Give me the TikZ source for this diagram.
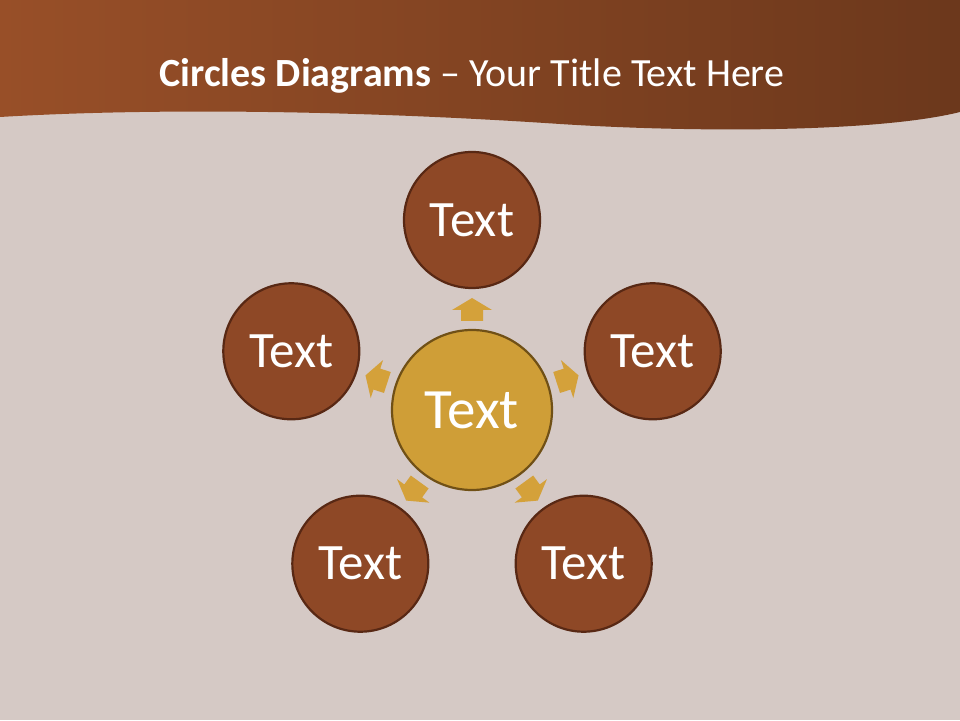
\documentclass[tikz,border=0pt]{standalone}
\usepackage{fontspec}
\setmainfont{Carlito}
\usetikzlibrary{calc}
\definecolor{pagebg}{RGB}{213,201,197}
\definecolor{hdrleft}{RGB}{152,79,40}
\definecolor{hdrright}{RGB}{108,56,28}
\definecolor{ringfill}{RGB}{142,72,38}
\definecolor{ringline}{RGB}{88,40,20}
\definecolor{hubfill}{RGB}{207,158,55}
\definecolor{hubline}{RGB}{112,80,22}
\definecolor{arrowfill}{RGB}{212,161,58}

\def\R{190}

\begin{document}
\begin{tikzpicture}[x=1pt, y=1pt]
  \tikzset{
    ring/.style={circle, fill=ringfill, draw=ringline, line width=2.2pt,
      minimum size=136pt, inner sep=0pt, text=white, font=\fontsize{51}{54}\selectfont},
    hub/.style={circle, fill=hubfill, draw=hubline, line width=2.2pt,
      minimum size=160pt, inner sep=0pt, text=white, font=\fontsize{57}{60}\selectfont},
    blockarrow/.style={fill=arrowfill}
  }
  % background and header wave
  \fill[pagebg] (0,0) rectangle (960,720);
  \useasboundingbox (0,0) rectangle (960,720);
  \shade[left color=hdrleft, right color=hdrright]
    (0,720) -- (960,720) -- (960,608)
    .. controls (880,588) and (700,587) .. (560,596)
    .. controls (350,610) and (150,612) .. (0,603) -- cycle;
  \node [text=white, anchor=base, font=\fontsize{40}{44}\selectfont] (title) at (472,633)
    {\textbf{Circles Diagrams} – Your Title Text Here};

  % draw hub
  \node [hub] (hub) at (472,310) {Text};

  % draw outer circles
  \foreach \a [count=\i] in {90, 18, 306, 234, 162}
  \node [ring] (ring-\i) at ($(hub)+(\a:\R)$) {Text};

  % draw block arrows between hub and outer circles
  \foreach \a [count=\i] in {90, 18, 306, 234, 162}
  \fill [blockarrow, shift={(hub.center)}, rotate=\a-90]
    (-11,89) -- (11,89) -- (11,100) -- (20,100) -- (0,112)
    -- (-20,100) -- (-11,100) -- cycle;

\end{tikzpicture}
\end{document}
